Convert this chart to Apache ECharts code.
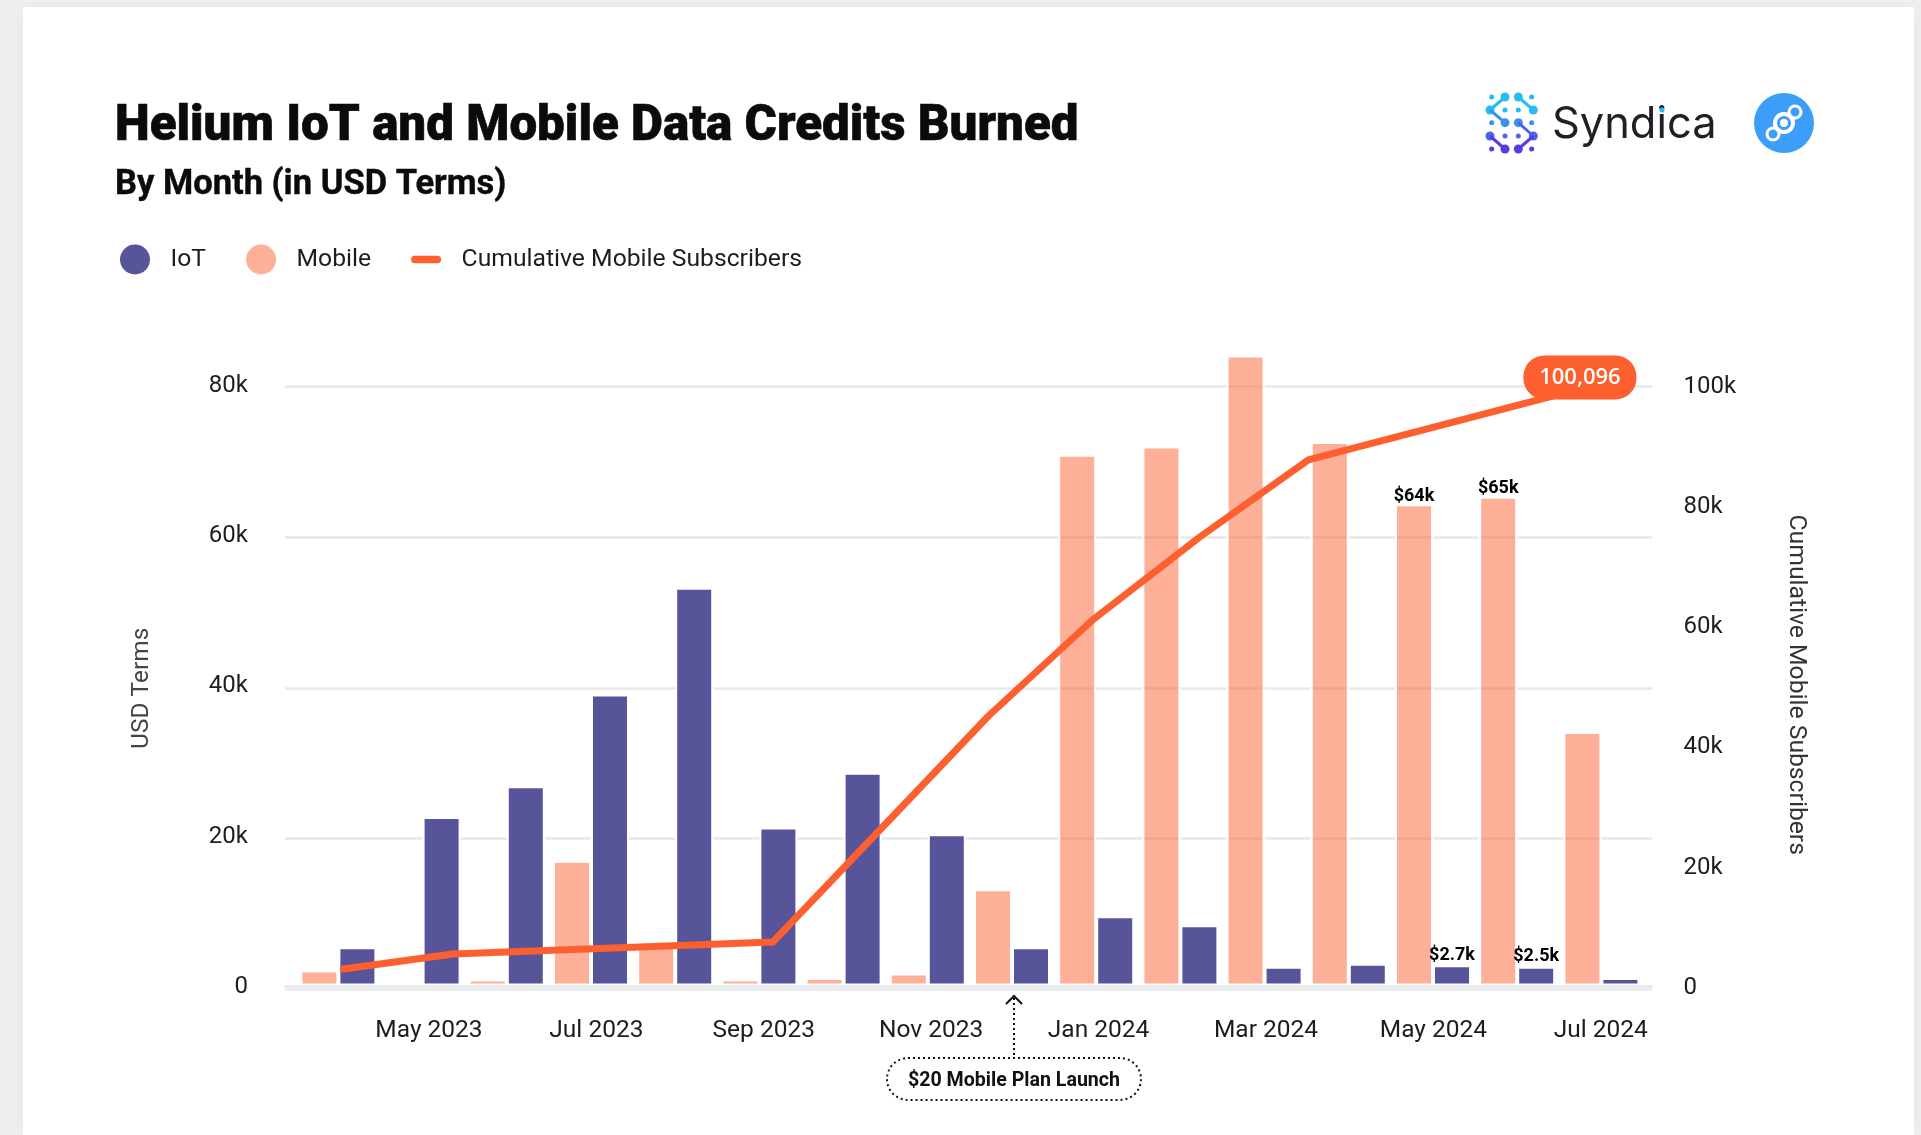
<!DOCTYPE html>
<html>
<head>
<meta charset="utf-8">
<title>Helium IoT and Mobile Data Credits Burned</title>
<script src="https://cdn.jsdelivr.net/npm/echarts@6/dist/echarts.min.js"></script>
<style>
  html, body { margin: 0; height: 100%; background: #efefef; overflow: hidden; }
  #card { position: absolute; left: 23px; top: 7px; right: 7px; bottom: 0; background: #fff; box-shadow: 0 0 14px rgba(0,0,0,0.04); }
  #app { position: absolute; left: 0; top: 0; width: 1921px; height: 1135px; }
</style>
</head>
<body>
<div id="card"></div>
<div id="app"></div>
<script>
const months = ["Apr 2023", "May 2023", "Jun 2023", "Jul 2023", "Aug 2023", "Sep 2023", "Oct 2023", "Nov 2023",
  "Dec 2023", "Jan 2024", "Feb 2024", "Mar 2024", "Apr 2024", "May 2024", "Jun 2024", "Jul 2024"];
const iotValues = [5100, 22400, 26500, 38700, 52900, 21000, 28300, 20100, 5100, 9200, 8000, 2500, 2900, 2700, 2500, 1000];
const mobileValues = [2000, null, 800, 16600, 5600, 800, 1000, 1600, 12800, 70600, 71700, 83800, 72300, 64000, 65000, 33700];
const iotLabels = { 13: "$2.7k", 14: "$2.5k" };
const mobileLabels = { 13: "$64k", 14: "$65k" };

// the subscriber line is not sampled on month centres, position is in months from Apr 2023
const subscriberPositions = [0.06, 1.36, 5.16, 6.43, 7.72, 8.96, 10.23, 11.52, 12.76, 15];
const subscriberValues = [2740, 5240, 7230, 25850, 44800, 60800, 74560, 87400, 91900, 100096];

const FONT = "Roboto";
const TEXT = "#1d1d1f";
const IOT = "#58549a";
const MOBILE = "rgba(254,95,47,0.5)";
const LINE = "#fe5f2f";

function kFormat(v) {
  return v === 0 ? "0" : v / 1000 + "k";
}

function withLabels(values, labels) {
  return values.map((v, i) => labels[i]
    ? { value: v, label: { show: true, formatter: labels[i] } }
    : v);
}

// Syndica mark, drawn from its dots and blobs
function syndicaMark() {
  const smallDots = [[275,291],[395,291],[315,330],[355,330],[275,368],[395,368],[315,408],[355,408],[275,447],[395,447]];
  const blobs = [[315,291],[355,291],[270,330],[400,330],[315,368],[355,368],[270,408],[400,408],[315,447],[355,447]];
  const links = [[0,2],[1,3],[2,4],[5,7],[7,9],[6,8]];
  const px = (x) => 1400 + x / 3;
  const py = (y) => y / 3;
  const colorAt = (y) => y < 340 ? "#27bdf0" : y < 385 ? "#3a93ea" : y < 420 ? "#4a66e6" : "#5a3be0";
  const out = [];
  smallDots.forEach(([x, y]) => out.push({ type: "circle", shape: { cx: px(x), cy: py(y), r: 2.5 }, style: { fill: colorAt(y) } }));
  blobs.forEach(([x, y]) => out.push({ type: "circle", shape: { cx: px(x), cy: py(y), r: 4.5 }, style: { fill: colorAt(y) } }));
  links.forEach(([a, b]) => out.push({
    type: "line",
    shape: { x1: px(blobs[a][0]), y1: py(blobs[a][1]), x2: px(blobs[b][0]), y2: py(blobs[b][1]) },
    style: { stroke: colorAt(blobs[b][1]), lineWidth: 3 }
  }));
  return out;
}

function heliumMark() {
  const blue = "#3c9ef8";
  return [
    { type: "circle", shape: { cx: 1784, cy: 123, r: 30 }, style: { fill: blue } },
    { type: "line", shape: { x1: 1773, y1: 134, x2: 1795, y2: 112 }, style: { stroke: "#fff", lineWidth: 10 } },
    { type: "circle", shape: { cx: 1773, cy: 134, r: 6 }, style: { fill: blue, stroke: "#fff", lineWidth: 3 } },
    { type: "circle", shape: { cx: 1795, cy: 112, r: 6 }, style: { fill: blue, stroke: "#fff", lineWidth: 3 } },
    { type: "circle", shape: { cx: 1784, cy: 123, r: 9 }, style: { fill: blue, stroke: "#fff", lineWidth: 4 } },
    { type: "circle", shape: { cx: 1784, cy: 123, r: 4 }, style: { fill: "#fff" } }
  ];
}

function launchNote() {
  const dotted = { stroke: "#111", lineWidth: 2, lineDash: [2, 3] };
  return [
    { type: "line", shape: { x1: 1014, y1: 998, x2: 1014, y2: 1056 }, style: dotted },
    { type: "polyline", shape: { points: [[1006, 1004], [1014, 996], [1022, 1004]] }, style: { stroke: "#111", lineWidth: 2, fill: null } },
    { type: "rect", shape: { x: 887, y: 1058, width: 254, height: 42, r: 21 }, style: { fill: "#fff", ...dotted } },
    { type: "text", style: { x: 1014, y: 1081, text: "$20 Mobile Plan Launch", align: "center", verticalAlign: "middle",
      font: "700 19.6px " + FONT, fill: "#111" } }
  ];
}

const axisLabel = { color: TEXT, fontFamily: FONT, fontSize: 24 };
const heading = { fontFamily: FONT, color: "#0b0b0d", textBorderColor: "#0b0b0d" };

const option = {
  animation: false,
  textStyle: { fontFamily: FONT },
  title: [
    { text: "Helium IoT and Mobile Data Credits Burned", left: 115, top: 103, padding: 0,
      textStyle: { ...heading, fontSize: 49.3, fontWeight: 900, textBorderWidth: 0.6 } },
    { text: "By Month (in USD Terms)", left: 115, top: 168, padding: 0,
      textStyle: { ...heading, fontSize: 34.5, fontWeight: 700, textBorderWidth: 0.4 } },
    { text: "Syndica", left: 1552, top: 103, padding: 0,
      textStyle: { fontFamily: "Inter", fontSize: 43.4, fontWeight: 400, color: "#1f1f24" } }
  ],
  legend: {
    left: 115, top: 239.5, itemWidth: 30, itemHeight: 30, itemGap: 40,
    itemStyle: { borderWidth: 0 },
    textStyle: { color: TEXT, fontFamily: FONT, fontSize: 24.7, padding: [0, 0, 0, 15.5] },
    data: [
      { name: "IoT", icon: "circle" },
      { name: "Mobile", icon: "circle" },
      { name: "Cumulative Mobile Subscribers", icon: "path://M4,0H28A4,4 0 0 1 28,8H4A4,4 0 0 1 4,0Z" }
    ]
  },
  grid: [
    // gridlines sit slightly below the tick labels in the original, so they get their own grid
    { left: 285, top: 386.7, width: 1367, height: 602.3 },
    { left: 296.3, top: 384, width: 1347.2, height: 601.5 },
    // month labels run on a slightly tighter step than the bars
    { left: 303.45, top: 384, width: 1339.2, height: 601.5 }
  ],
  xAxis: [
    { gridIndex: 0, type: "value", min: 0, max: 1, offset: -3, z: 3,
      axisLine: { show: true, lineStyle: { color: "#e4e7eb", width: 2.5 } },
      axisTick: { show: false }, axisLabel: { show: false }, splitLine: { show: false } },
    { gridIndex: 1, type: "category", data: months,
      axisLine: { show: false }, axisTick: { show: false }, axisLabel: { show: false } },
    { gridIndex: 1, type: "value", min: -0.5, max: 15.5, show: false },
    { gridIndex: 2, type: "category", data: months,
      axisLine: { show: false }, axisTick: { show: false },
      axisLabel: { ...axisLabel, fontSize: 24.5, margin: 33, interval: (i) => i % 2 === 1 } }
  ],
  yAxis: [
    { gridIndex: 0, type: "value", min: 0, max: 80000, interval: 20000,
      axisLine: { show: false }, axisTick: { show: false }, axisLabel: { show: false },
      splitLine: { lineStyle: { color: "#e6e8ea", width: 2.5 } } },
    { gridIndex: 1, type: "value", min: 0, max: 80000, interval: 20000,
      name: "USD Terms", nameLocation: "middle", nameGap: 142.3, nameRotate: 90,
      nameTextStyle: { color: "#444", fontFamily: FONT, fontSize: 24.5, padding: [0, 7, 0, 0] },
      axisLine: { show: false }, axisTick: { show: false }, splitLine: { show: false },
      // lineHeight with top alignment nudges the text below its tick
      axisLabel: { ...axisLabel, margin: 48.3, verticalAlign: "top", lineHeight: 3, formatter: kFormat } },
    { gridIndex: 1, type: "value", position: "right", min: 0, max: 100000, interval: 20000,
      name: "Cumulative Mobile Subscribers", nameLocation: "middle", nameGap: 140.5, nameRotate: -90,
      nameTextStyle: { color: "#333", fontFamily: FONT, fontSize: 24.7 },
      axisLine: { show: false }, axisTick: { show: false }, splitLine: { show: false },
      axisLabel: { ...axisLabel, margin: 40, verticalAlign: "top", lineHeight: 5, formatter: kFormat } },
    { gridIndex: 2, type: "value", min: 0, max: 1, show: false }
  ],
  series: [
    {
      name: "Mobile", type: "bar", xAxisIndex: 1, yAxisIndex: 1, clip: false,
      barWidth: 38, barGap: "0%",
      itemStyle: { color: MOBILE, borderColor: "#fff", borderWidth: 2 },
      label: { position: "top", distance: -1, color: "#000", fontFamily: FONT, fontSize: 18, fontWeight: 700 },
      data: withLabels(mobileValues, mobileLabels)
    },
    {
      name: "IoT", type: "bar", xAxisIndex: 1, yAxisIndex: 1, clip: false,
      barWidth: 38, barGap: "0%",
      itemStyle: { color: IOT, borderColor: "#fff", borderWidth: 2 },
      label: { position: "top", distance: 1, color: "#000", fontFamily: FONT, fontSize: 18, fontWeight: 700 },
      data: withLabels(iotValues, iotLabels)
    },
    {
      name: "Cumulative Mobile Subscribers", type: "line", xAxisIndex: 2, yAxisIndex: 2, z: 4, clip: false,
      symbol: "circle", symbolSize: 1, lineStyle: { color: LINE, width: 7, cap: "round", join: "round" },
      itemStyle: { color: LINE },
      data: subscriberValues.map((v, i) => {
        const point = [subscriberPositions[i], v];
        if (i < subscriberValues.length - 1) return point;
        return {
          value: point,
          label: {
            show: true, position: "top", distance: 0, offset: [-21.5, 16.5],
            formatter: v.toLocaleString("en-US"),
            color: "#fff", fontFamily: "Open Sans", fontSize: 22, fontWeight: 600,
            backgroundColor: LINE, borderRadius: 21, padding: [11, 15, 11, 15], width: 83, align: "center"
          }
        };
      })
    }
  ],
  graphic: [...syndicaMark(), { type: "circle", shape: { cx: 1662, cy: 110, r: 2.5 }, style: { fill: "#27bdf0" }, z: 10 },
    ...heliumMark(), ...launchNote()]
};

var chart = echarts.init(document.getElementById("app"), null, { renderer: "canvas" });
chart.setOption(option);
</script>
</body>
</html>
